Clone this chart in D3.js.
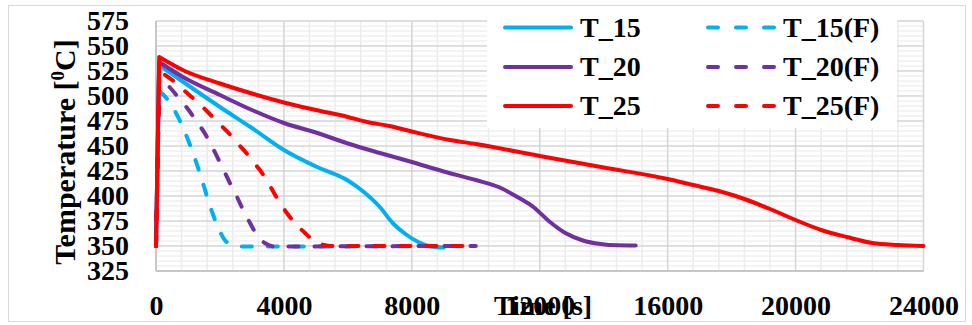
<!DOCTYPE html>
<html>
<head>
<meta charset="utf-8">
<script src="https://cdn.jsdelivr.net/npm/d3@7"></script>
<style>
  html, body { margin: 0; padding: 0; background: #fff; }
  svg { display: block; }
  text { font-family: "Liberation Serif", "Times New Roman", serif; font-weight: bold; fill: #000; }
</style>
</head>
<body>
<svg id="chart" width="972" height="325"></svg>
<script>
// Axis ticks
const xTicks = [0, 4000, 8000, 12000, 16000, 20000, 24000];
const yTicks = [325, 350, 375, 400, 425, 450, 475, 500, 525, 550, 575];

// Temperature histories: time [s] and temperature [°C]
const timeT15 = [0, 100, 900, 2000, 3000, 4000, 5000, 6000, 6500, 7000, 7400, 7800, 8200, 8600, 9000];
const tempT15 = [350, 531, 513, 489, 468, 446, 429.5, 415.5, 404, 389, 373, 362, 354, 349.5, 348.4];

const timeT15F = [0, 100, 350, 750, 1100, 1400, 1700, 1950, 2150, 2400, 2700, 3000, 10000];
const tempT15F = [350, 505, 497, 475, 448, 420, 389, 368, 356, 351, 349.6, 349.5, 350];

const timeT20 = [0, 100, 900, 2000, 3000, 4000, 5000, 6000, 7000, 8000, 9000, 10000, 10750, 11300, 11800, 12300, 12800, 13350, 13900, 14400, 15000];
const tempT20 = [350, 534, 518, 501, 486, 473, 463.5, 452.5, 443, 434, 424.5, 416, 408.5, 399, 389, 374.5, 363, 355.5, 352, 350.7, 350.5];

const timeT20F = [0, 100, 450, 760, 1020, 1280, 1520, 1790, 2100, 2310, 2520, 2680, 2890, 3100, 3400, 3800, 4200, 10000];
const tempT20F = [350, 518, 508, 496, 486, 474, 463, 447, 427, 413, 400, 389, 376, 364, 353, 349, 349.5, 350];

const timeT25 = [0, 100, 900, 2000, 3000, 4000, 5000, 6000, 6600, 7300, 8000, 9200, 10000, 12000, 14000, 16000, 16800, 17600, 18400, 19200, 20000, 20800, 21600, 22400, 23200, 24000];
const tempT25 = [350, 539, 525, 512.5, 502.5, 493.5, 486, 479, 474, 470, 464.5, 456, 452, 440, 428.5, 417, 411, 405, 397, 387, 376, 366, 359, 353, 351, 350];

const timeT25F = [0, 100, 700, 970, 1330, 1650, 1960, 2270, 2600, 2850, 3150, 3400, 3620, 3820, 4080, 4340, 4660, 4970, 5250, 5500, 10000];
const tempT25F = [350, 525, 511, 503, 493, 483, 473, 463, 451, 442, 430, 419, 407, 396, 383.5, 373, 363, 354.5, 351, 350, 350];

const seriesNames = ["T_15", "T_15(F)", "T_20", "T_20(F)", "T_25", "T_25(F)"];
const seriesTimes = [timeT15, timeT15F, timeT20, timeT20F, timeT25, timeT25F];
const seriesTemps = [tempT15, tempT15F, tempT20, tempT20F, tempT25, tempT25F];
const seriesColors = ["#00B0F0", "#00B0F0", "#7030A0", "#7030A0", "#FF0000", "#FF0000"];
const seriesDashed = [false, true, false, true, false, true];

const svg = d3.select("#chart");
const plot = { left: 156, right: 923.5, top: 21, bottom: 271 };

const x = d3.scaleLinear().domain([0, 24000]).range([plot.left, plot.right]);
const y = d3.scaleLinear().domain([325, 575]).range([plot.bottom, plot.top]);

// Outer chart border
svg.append("rect")
  .attr("x", 8.5).attr("y", 5.5).attr("width", 957).attr("height", 316)
  .attr("fill", "#fff").attr("stroke", "#d9d9d9").attr("stroke-width", 1);

// Gridlines: minor first, then major
const grid = svg.append("g");
const minorY = d3.range(325, 575.1, 5).filter(v => v % 25 !== 0);
const minorX = d3.range(0, 24000.1, 800).filter(v => v % 4000 !== 0);
grid.selectAll(".my").data(minorY).join("line")
  .attr("x1", plot.left).attr("x2", plot.right)
  .attr("y1", d => y(d)).attr("y2", d => y(d))
  .attr("stroke", "#e8e8e8").attr("stroke-width", 1);
grid.selectAll(".mx").data(minorX).join("line")
  .attr("y1", plot.top).attr("y2", plot.bottom)
  .attr("x1", d => x(d)).attr("x2", d => x(d))
  .attr("stroke", "#ececec").attr("stroke-width", 1.5);
grid.selectAll(".gy").data(yTicks).join("line")
  .attr("x1", plot.left).attr("x2", plot.right)
  .attr("y1", d => y(d)).attr("y2", d => y(d))
  .attr("stroke", "#d4d4d4").attr("stroke-width", 1.5);
grid.selectAll(".gx").data(xTicks).join("line")
  .attr("y1", plot.top).attr("y2", plot.bottom)
  .attr("x1", d => x(d)).attr("x2", d => x(d))
  .attr("stroke", "#d4d4d4").attr("stroke-width", 1.5);

// Axis lines
svg.append("line").attr("x1", plot.left).attr("x2", plot.left)
  .attr("y1", plot.top).attr("y2", plot.bottom).attr("stroke", "#bfbfbf").attr("stroke-width", 1.5);
svg.append("line").attr("x1", plot.left).attr("x2", plot.right)
  .attr("y1", plot.bottom).attr("y2", plot.bottom).attr("stroke", "#bfbfbf").attr("stroke-width", 1.5);

// Tick labels through d3 axes
const yAxis = svg.append("g").attr("transform", `translate(${plot.left},0)`)
  .call(d3.axisLeft(y).tickValues(yTicks).tickSize(0).tickPadding(27).tickFormat(d3.format("d")));
const xAxis = svg.append("g").attr("transform", `translate(0,${plot.bottom})`)
  .call(d3.axisBottom(x).tickValues(xTicks).tickSize(0).tickPadding(24).tickFormat(d3.format("d")));
[yAxis, xAxis].forEach(g => {
  g.select(".domain").remove();
  g.selectAll("text")
    .attr("font-family", "'Liberation Serif', 'Times New Roman', serif")
    .attr("font-weight", "bold")
    .attr("font-size", 28)
    .attr("fill", "#000");
});

// Axis titles
svg.append("text")
  .attr("x", 543).attr("y", 315)
  .attr("text-anchor", "middle").attr("font-size", 28)
  .text("Time [s]");

const yTitle = svg.append("text")
  .attr("transform", "translate(75,152) rotate(-90)")
  .attr("text-anchor", "middle").attr("font-size", 30);
yTitle.append("tspan").text("Temperature  [");
yTitle.append("tspan").attr("font-size", 19).attr("dy", -11).text("0");
yTitle.append("tspan").attr("dy", 11).text("C]");

// Series lines: a straight heating ramp to the peak, then a smooth cooling curve
const smooth = d3.line().x(d => x(d[0])).y(d => y(d[1])).curve(d3.curveMonotoneX);
const linesG = svg.append("g");
seriesNames.forEach((name, i) => {
  const pts = seriesTimes[i].map((t, k) => [t, seriesTemps[i][k]]);
  const start = pts[0];
  const d = `M${x(start[0])},${y(start[1])}` + smooth(pts.slice(1)).replace(/^M/, "L");
  linesG.append("path")
    .attr("d", d)
    .attr("fill", "none")
    .attr("stroke", seriesColors[i])
    .attr("stroke-width", 4)
    .attr("stroke-linejoin", "round")
    .attr("stroke-linecap", "round")
    .attr("stroke-dasharray", seriesDashed[i] ? "10 16" : null);
});

// Legend (two columns, row-major)
const legend = svg.append("g");
legend.append("rect")
  .attr("x", 487).attr("y", 7).attr("width", 410).attr("height", 121)
  .attr("fill", "#fff");
const colX = [503, 706];
const rowY = [27.5, 67, 106];
seriesNames.forEach((name, i) => {
  const cx = colX[i % 2];
  const cy = rowY[Math.floor(i / 2)];
  legend.append("line")
    .attr("x1", cx + 2).attr("x2", cx + 68)
    .attr("y1", cy).attr("y2", cy)
    .attr("stroke", seriesColors[i])
    .attr("stroke-width", 4)
    .attr("stroke-linecap", "round")
    .attr("stroke-dasharray", seriesDashed[i] ? "10 18" : null);
  legend.append("text")
    .attr("x", cx + 77).attr("y", cy + 9)
    .attr("font-size", 28)
    .text(name);
});
</script>
</body>
</html>
